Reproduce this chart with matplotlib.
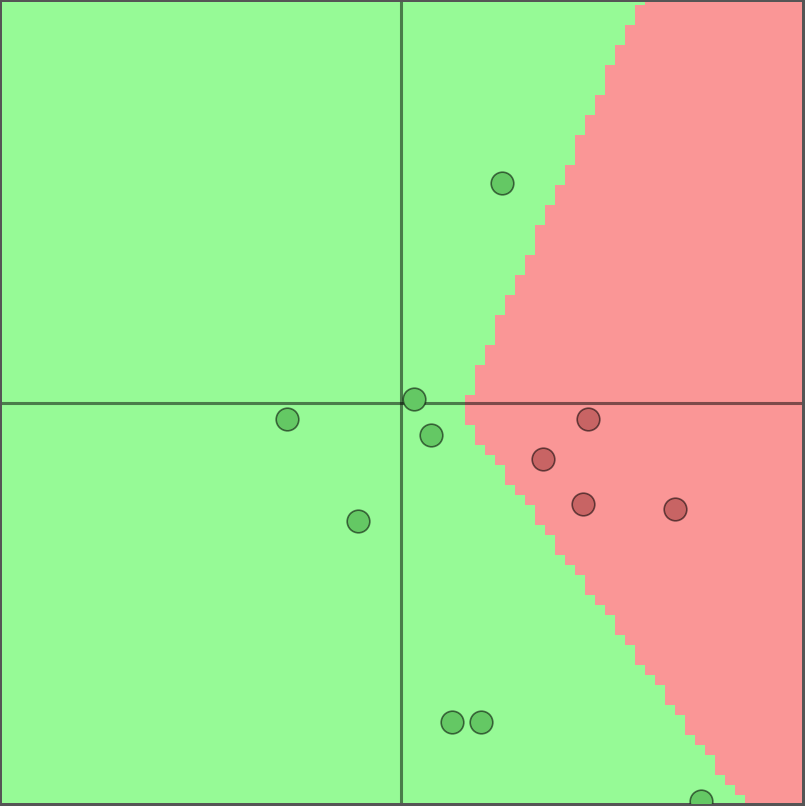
import numpy as np
import matplotlib
matplotlib.use('Agg')
import matplotlib.pyplot as plt

# left edge of the red (class 0) region for each grid row, top row first
red_from_x = [
    3.05, 2.925, 2.925, 2.8, 2.8, 2.675, 2.675, 2.55, 2.55, 2.55,
    2.425, 2.425, 2.3, 2.3, 2.175, 2.175, 2.175, 2.05, 2.05, 1.925,
    1.925, 1.8, 1.8, 1.675, 1.675, 1.675, 1.55, 1.55, 1.425, 1.425,
    1.3, 1.3, 1.175, 1.175, 1.175, 1.05, 1.05, 0.925, 0.925, 0.925,
    0.8, 0.8, 0.8, 0.925, 0.925, 1.05, 1.175, 1.3, 1.3, 1.425,
    1.55, 1.675, 1.675, 1.8, 1.925, 1.925, 2.05, 2.175, 2.3, 2.3,
    2.425, 2.55, 2.675, 2.675, 2.8, 2.925, 2.925, 3.05, 3.175, 3.3,
    3.3, 3.425, 3.55, 3.55, 3.675, 3.8, 3.925, 3.925, 4.05, 4.175,
    4.3,
]

# training points
green_x = [1.2625, 0.1625, -1.425, 0.369, -0.5375, 0.6375, 1.0, 3.756]
green_y = [2.756, 0.05, -0.206, -0.4, -1.475, -3.9875, -3.9875, -4.98]
red_x = [2.34, 1.77, 2.27, 3.425]
red_y = [-0.204, -0.7, -1.2625, -1.325]

BG_GREEN = (150/255, 250/255, 150/255)
BG_RED = (250/255, 150/255, 150/255)
PT_GREEN = (100/255, 200/255, 100/255)
PT_RED = (200/255, 100/255, 100/255)


def main():
    fig = plt.figure(figsize=(8.05, 8.06), dpi=100)
    fig.patch.set_facecolor('#555555')
    ax = fig.add_axes([2/805, 3/806, 800/805, 801/806])

    step = 0.125
    n = len(red_from_x)
    xc = -5.0125 + step * np.arange(n)
    yc = 5.0375 - step * np.arange(n)
    xe = np.append(xc - step/2, xc[-1] + step/2)
    ye = np.append(yc + step/2, yc[-1] - step/2)
    grid = (xc[None, :] > np.array(red_from_x)[:, None]).astype(float)
    cmap = matplotlib.colors.ListedColormap([BG_GREEN, BG_RED])
    ax.pcolormesh(xe, ye, grid, cmap=cmap, vmin=0, vmax=1, shading='flat')

    ax.axhline(0, color='black', alpha=0.5, linewidth=2.2, zorder=2)
    ax.axvline(0, color='black', alpha=0.5, linewidth=2.2, zorder=2)

    ax.scatter(green_x, green_y, s=265, color=PT_GREEN, edgecolors=(0, 0, 0, 0.55),
               linewidths=1.2, zorder=3)
    ax.scatter(red_x, red_y, s=265, color=PT_RED, edgecolors=(0, 0, 0, 0.55),
               linewidths=1.2, zorder=3)

    ax.set_xlim(-4.9875, 5.0125)
    ax.set_ylim(-5.0, 5.0125)
    ax.set_xticks([])
    ax.set_yticks([])
    for s in ax.spines.values():
        s.set_visible(False)

    fig.savefig('out.png', dpi=100, facecolor=fig.get_facecolor())


if __name__ == '__main__':
    main()
